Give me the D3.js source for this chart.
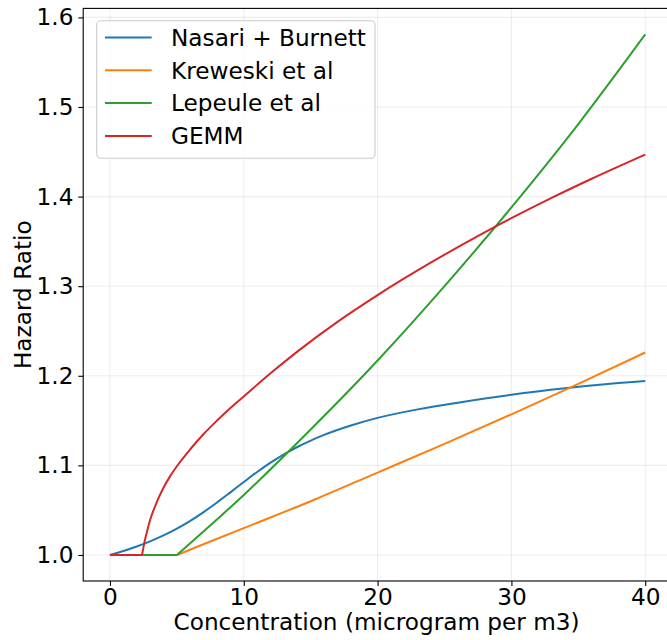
<!DOCTYPE html>
<html>
<head>
<meta charset="utf-8">
<script src="https://cdn.jsdelivr.net/npm/d3@7"></script>
<style>
  html, body { margin: 0; padding: 0; background: #fff; }
  svg { display: block; font-family: "DejaVu Sans", sans-serif; }
</style>
</head>
<body>
<svg id="chart" width="667" height="640"></svg>
<script>
// ---- data ----
const seriesNames = ["Nasari + Burnett", "Kreweski et al", "Lepeule et al", "GEMM"];
const seriesColors = ["#1f77b4", "#ff7f0e", "#2ca02c", "#d62728"];

const nasariX = [0, 1, 2, 3, 4, 5, 6, 7, 8, 9, 10, 11, 12, 13, 14, 15, 16, 18, 20, 23, 26, 30, 34, 37, 40];
const nasariY = [1.0000, 1.0045, 1.0095, 1.0152, 1.0218, 1.0294, 1.0381, 1.0479, 1.0586, 1.0699, 1.0814, 1.0926, 1.1030, 1.1123, 1.1205, 1.1277, 1.1340, 1.1445, 1.1530, 1.1625, 1.1700, 1.1788, 1.1860, 1.1905, 1.1941];

const krewX = [0, 5, 10, 15, 20, 25, 30, 35, 40];
const krewY = [1.000, 1.000, 1.030, 1.060, 1.092, 1.124, 1.157, 1.191, 1.226];

const lepX = [0, 5, 10, 15, 20, 25, 30, 35, 40];
const lepY = [1.000, 1.000, 1.067, 1.140, 1.217, 1.300, 1.388, 1.481, 1.581];

const gemmX = [0, 2.4, 2.6, 2.8, 3.0, 3.5, 4.0, 4.5, 5, 6, 7, 8, 9, 10, 12, 14, 17, 20, 24, 28, 30, 33, 36, 40];
const gemmY = [1.000, 1.000, 1.016, 1.028, 1.039, 1.059, 1.075, 1.088, 1.099, 1.118, 1.135, 1.150, 1.164, 1.177, 1.2028, 1.2270, 1.2602, 1.2901, 1.3265, 1.3601, 1.3759, 1.3985, 1.4199, 1.4469];

const xTicks = [0, 10, 20, 30, 40];
const yTicks = [1.0, 1.1, 1.2, 1.3, 1.4, 1.5, 1.6];
const xLabel = "Concentration (microgram per m3)";
const yLabel = "Hazard Ratio";

// ---- layout ----
const svg = d3.select("#chart");
const plot = { left: 83.2, right: 672, top: 8.4, bottom: 581 };
const FS = 23.2;

const allX = [nasariX, krewX, lepX, gemmX].flat();
const allY = [nasariY, krewY, lepY, gemmY].flat();
const [x0, x1] = d3.extent(allX), [y0, y1] = d3.extent(allY);
const mx = (x1 - x0) * 0.05, my = (y1 - y0) * 0.05;

const x = d3.scaleLinear().domain([x0 - mx, x1 + mx]).range([plot.left, plot.right]);
const y = d3.scaleLinear().domain([y0 - my, y1 + my]).range([plot.bottom, plot.top]);

// grid
const grid = svg.append("g");
grid.selectAll("line.gx").data(xTicks).join("line")
  .attr("x1", d => x(d)).attr("x2", d => x(d))
  .attr("y1", plot.top).attr("y2", plot.bottom)
  .attr("stroke", "#b0b0b0").attr("stroke-opacity", 0.22).attr("stroke-width", 1.1);
grid.selectAll("line.gy").data(yTicks).join("line")
  .attr("y1", d => y(d)).attr("y2", d => y(d))
  .attr("x1", plot.left).attr("x2", plot.right)
  .attr("stroke", "#b0b0b0").attr("stroke-opacity", 0.22).attr("stroke-width", 1.1);

// lines
const series = [
  { xs: nasariX, ys: nasariY },
  { xs: krewX, ys: krewY },
  { xs: lepX, ys: lepY },
  { xs: gemmX, ys: gemmY }
];
const lineGen = d3.line().x(d => x(d[0])).y(d => y(d[1])).curve(d3.curveMonotoneX);
series.forEach((s, i) => {
  const pts = s.xs.map((v, j) => [v, s.ys[j]]);
  // split at the end of the flat (threshold) part so the kink stays sharp
  let k = 0;
  while (k + 1 < pts.length && pts[k + 1][1] === pts[0][1]) k++;
  const parts = k > 0 ? [pts.slice(0, k + 1), pts.slice(k)] : [pts];
  parts.forEach(p => {
    svg.append("path").datum(p)
      .attr("d", lineGen)
      .attr("fill", "none")
      .attr("stroke", seriesColors[i])
      .attr("stroke-width", 2)
      .attr("stroke-linejoin", "round");
  });
});

// axes
const xAxis = d3.axisBottom(x).tickValues(xTicks).tickSize(4.9).tickPadding(3).tickFormat(d3.format("d"));
const yAxis = d3.axisLeft(y).tickValues(yTicks).tickSize(4.9).tickPadding(4.9).tickFormat(d3.format(".1f"));

const gx = svg.append("g").attr("transform", `translate(0,${plot.bottom})`).call(xAxis);
const gy = svg.append("g").attr("transform", `translate(${plot.left},0)`).call(yAxis);
[gx, gy].forEach(g => {
  g.select(".domain").remove();
  g.selectAll(".tick line").attr("stroke", "#000").attr("stroke-width", 1.1);
  g.selectAll(".tick text").attr("font-size", FS).attr("fill", "#000")
    .attr("font-family", "DejaVu Sans, sans-serif");
});

// spines
svg.append("rect")
  .attr("x", plot.left).attr("y", plot.top)
  .attr("width", plot.right - plot.left).attr("height", plot.bottom - plot.top)
  .attr("fill", "none").attr("stroke", "#000").attr("stroke-width", 1.1);

// axis labels
svg.append("text")
  .attr("x", (plot.left + plot.right) / 2 - 1)
  .attr("y", 630)
  .attr("text-anchor", "middle")
  .attr("font-size", FS)
  .attr("fill", "#000")
  .text(xLabel);

svg.append("text")
  .attr("transform", `translate(31,${(plot.top + plot.bottom) / 2}) rotate(-90)`)
  .attr("text-anchor", "middle")
  .attr("font-size", FS)
  .attr("fill", "#000")
  .text(yLabel);

// legend
const leg = svg.append("g");
leg.append("rect")
  .attr("x", 96.7).attr("y", 20.7).attr("width", 278.3).attr("height", 137.6)
  .attr("rx", 4).attr("ry", 4)
  .attr("fill", "#fff").attr("fill-opacity", 0.8)
  .attr("stroke", "#cccccc").attr("stroke-width", 1.1);
seriesNames.forEach((name, i) => {
  const ly = 37.5 + i * 32.8;
  leg.append("line")
    .attr("x1", 105).attr("x2", 151.7).attr("y1", ly).attr("y2", ly)
    .attr("stroke", seriesColors[i]).attr("stroke-width", 2);
  leg.append("text")
    .attr("x", 171).attr("y", ly + 8.3)
    .attr("font-size", FS).attr("fill", "#000")
    .text(name);
});
</script>
</body>
</html>
